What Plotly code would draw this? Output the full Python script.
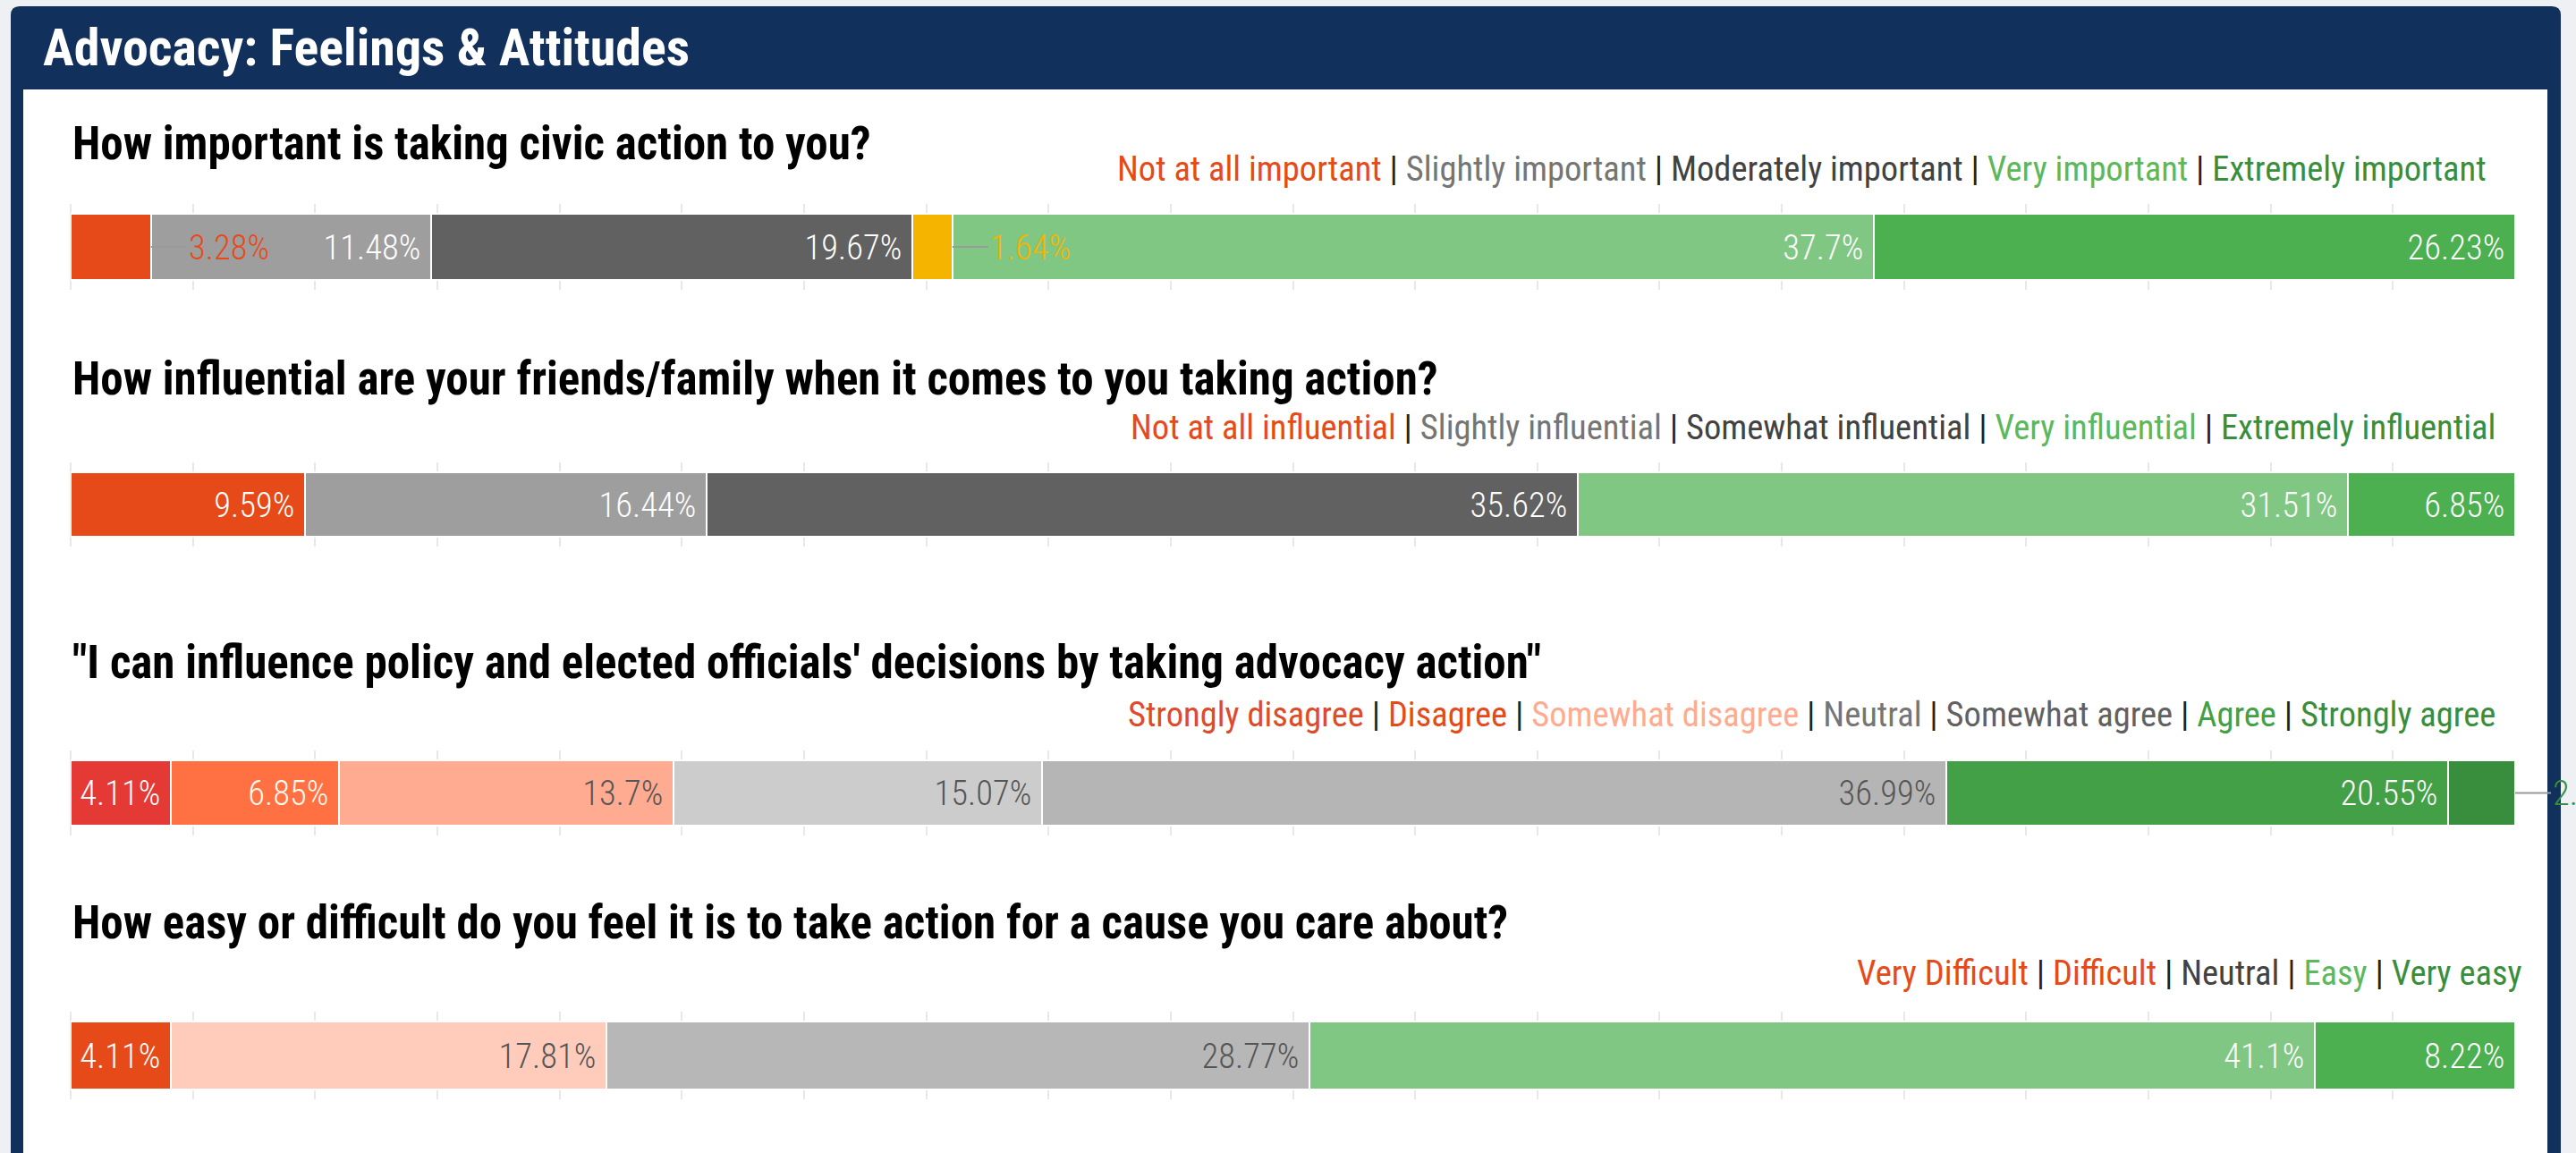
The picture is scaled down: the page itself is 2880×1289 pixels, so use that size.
import plotly.graph_objects as go

W, H = 2880, 1289

FONT = "Roboto Condensed, Liberation Sans Narrow, DejaVu Sans Condensed, sans-serif"
NAVY = "#11305B"

panel_title = "Advocacy: Feelings & Attitudes"

# --- data ---------------------------------------------------------------
q1_title = "How important is taking civic action to you?"
q1_cats = ["Not at all important", "Slightly important", "Moderately important",
           "Other", "Very important", "Extremely important"]
q1_values = [3.28, 11.48, 19.67, 1.64, 37.7, 26.23]
q1_legend = ["Not at all important", "Slightly important", "Moderately important",
             "Very important", "Extremely important"]

q2_title = "How influential are your friends/family when it comes to you taking action?"
q2_cats = ["Not at all influential", "Slightly influential", "Somewhat influential",
           "Very influential", "Extremely influential"]
q2_values = [9.59, 16.44, 35.62, 31.51, 6.85]
q2_legend = q2_cats

q3_title = "\"I can influence policy and elected officials' decisions by taking advocacy action\""
q3_cats = ["Strongly disagree", "Disagree", "Somewhat disagree", "Neutral",
           "Somewhat agree", "Agree", "Strongly agree"]
q3_values = [4.11, 6.85, 13.7, 15.07, 36.99, 20.55, 2.74]
q3_legend = q3_cats

q4_title = "How easy or difficult do you feel it is to take action for a cause you care about?"
q4_cats = ["Very Difficult", "Difficult", "Neutral", "Easy", "Very easy"]
q4_values = [4.11, 17.81, 28.77, 41.1, 8.22]
q4_legend = q4_cats

# --- styles -------------------------------------------------------------
q1_colors = ["#E64A19", "#9E9E9E", "#616161", "#F4B400", "#81C784", "#4CAF50"]
q1_textcolors = ["#FFFFFF"] * 6
q1_legend_colors = ["#E64A19", "#757575", "#424242", "#5CB85C", "#388E3C"]

q2_colors = ["#E64A19", "#9E9E9E", "#616161", "#81C784", "#4CAF50"]
q2_textcolors = ["#FFFFFF"] * 5
q2_legend_colors = ["#E64A19", "#757575", "#424242", "#5CB85C", "#388E3C"]

q3_colors = ["#E53935", "#FF7043", "#FFAB91", "#CCCCCC", "#B5B5B5", "#43A047", "#388E3C"]
q3_textcolors = ["#FFFFFF", "#FFF8EE", "#555555", "#555555", "#555555", "#FFFFFF", "#FFFFFF"]
q3_legend_colors = ["#DD4B2B", "#E64A19", "#FFAB91", "#757575", "#616161", "#43A047", "#388E3C"]

q4_colors = ["#E64A19", "#FFCCBC", "#B7B7B7", "#81C784", "#4CAF50"]
q4_textcolors = ["#FFFFFF", "#555555", "#555555", "#FFFFFF", "#FFFFFF"]
q4_legend_colors = ["#E64A19", "#E64A19", "#424242", "#5CB85C", "#388E3C"]

# layout in page pixels: title y, legend y, bar top, bar bottom, legend right edge
row_layout = [
    (160, 188, 239, 313, 2782),
    (423, 477, 528, 600, 2792),
    (741, 798, 850, 923, 2792),
    (1031, 1087, 1142, 1218, 2822),
]

questions = [
    (q1_title, q1_cats, q1_values, q1_legend, q1_colors, q1_textcolors, q1_legend_colors),
    (q2_title, q2_cats, q2_values, q2_legend, q2_colors, q2_textcolors, q2_legend_colors),
    (q3_title, q3_cats, q3_values, q3_legend, q3_colors, q3_textcolors, q3_legend_colors),
    (q4_title, q4_cats, q4_values, q4_legend, q4_colors, q4_textcolors, q4_legend_colors),
]

BAR_X0, BAR_X1 = 79, 2812
GRID_PAD = 11
SMALL = 4.0  # segments under this get an outside label


def fx(p):
    return p / W


def fy(p):
    return 1 - p / H


fig = go.Figure()
annotations = []
layout_axes = {}

for i, ((title, cats, values, legend, colors, tcolors, lcolors), (ty, ly, top, bot, lright)) in \
        enumerate(zip(questions, row_layout), start=1):
    xa = "x" if i == 1 else f"x{i}"
    ya = "y" if i == 1 else f"y{i}"
    width = (bot - top) / (bot - top + 2 * GRID_PAD)

    cum = 0
    for cat, v, c, tc in zip(cats, values, colors, tcolors):
        small = v < SMALL
        fig.add_trace(go.Bar(
            x=[v], y=[0], orientation="h", base=cum, name=cat,
            xaxis=xa, yaxis=ya, width=width,
            marker=dict(color=c, line=dict(color="white", width=2)),
            text=["" if small else f"{v:g}%\u00a0"],
            textposition="inside", insidetextanchor="end", textangle=0,
            textfont=dict(family=FONT, size=38.5, color=tc, weight=300),
            hovertemplate=f"{cat}: {v:g}%<extra></extra>",
            showlegend=False,
        ))
        if small:
            # keep the anchor inside the axis range or plotly hides it
            end = min(round(cum + v, 6), 100)
            annotations.append(dict(
                x=end, y=0, xref=xa, yref=ya, ax=40, ay=0,
                showarrow=True, arrowhead=0, arrowwidth=2, arrowcolor="#9A9A9A",
                standoff=0, xanchor="left", yanchor="middle",
                text=f"{v:g}%", font=dict(family=FONT, size=38.5, color=c, weight=300),
            ))
        cum += v

    layout_axes[f"xaxis{'' if i == 1 else i}"] = dict(
        domain=[fx(BAR_X0), fx(BAR_X1)], range=[0, 100], dtick=5,
        showgrid=True, gridcolor="#E8E8E8", gridwidth=1.5,
        zeroline=True, zerolinecolor="#E8E8E8", zerolinewidth=1.5,
        showticklabels=False, showline=False, anchor=ya, fixedrange=True,
    )
    layout_axes[f"yaxis{'' if i == 1 else i}"] = dict(
        domain=[fy(bot + GRID_PAD), fy(top - GRID_PAD)], range=[-0.5, 0.5],
        showgrid=False, zeroline=False, showticklabels=False, anchor=xa,
        fixedrange=True,
    )

    annotations.append(dict(
        x=fx(BAR_X0), y=fy(ty), xref="paper", yref="paper", showarrow=False,
        xanchor="left", yanchor="middle", text=title,
        font=dict(family=FONT, size=51, color="#000000", weight=700),
    ))
    sep = ' <span style="color:#222222">|</span> '
    legend_text = sep.join(
        f'<span style="color:{lc}">{name}</span>' for name, lc in zip(legend, lcolors))
    annotations.append(dict(
        x=fx(lright), y=fy(ly), xref="paper", yref="paper", showarrow=False,
        xanchor="right", yanchor="middle", text=legend_text,
        font=dict(family=FONT, size=38.5, color="#333333"),
    ))

annotations.append(dict(
    x=fx(46), y=fy(53), xref="paper", yref="paper", showarrow=False,
    xanchor="left", yanchor="middle", text=panel_title,
    font=dict(family=FONT, size=58, color="#FFFFFF", weight=700),
))

# panel frame: navy card with rounded top corners, white body
x0, x1, y0, r = 12, 2863, 7, 10
frame_path = (
    f"M {fx(x0)},{fy(H + 20)} L {fx(x0)},{fy(y0 + r)} "
    f"Q {fx(x0)},{fy(y0)} {fx(x0 + r)},{fy(y0)} "
    f"L {fx(x1 - r)},{fy(y0)} Q {fx(x1)},{fy(y0)} {fx(x1)},{fy(y0 + r)} "
    f"L {fx(x1)},{fy(H + 20)} Z"
)
shapes = [
    dict(type="path", path=frame_path, xref="paper", yref="paper",
         fillcolor=NAVY, line=dict(width=0), layer="below"),
    dict(type="rect", x0=fx(26), x1=fx(2848), y0=fy(H + 20), y1=fy(100),
         xref="paper", yref="paper", fillcolor="#FFFFFF", line=dict(width=0),
         layer="below"),
]

fig.update_layout(
    width=W, height=H,
    margin=dict(l=0, r=0, t=0, b=0),
    paper_bgcolor="#EEF0F3",
    plot_bgcolor="rgba(0,0,0,0)",
    barmode="stack",
    bargap=0,
    showlegend=False,
    annotations=annotations,
    shapes=shapes,
    **layout_axes,
)

# drop the default page margin so the figure fills the window
fig.write_html("out.html", config={"displayModeBar": False},
               post_script="document.body.style.margin = '0';")
